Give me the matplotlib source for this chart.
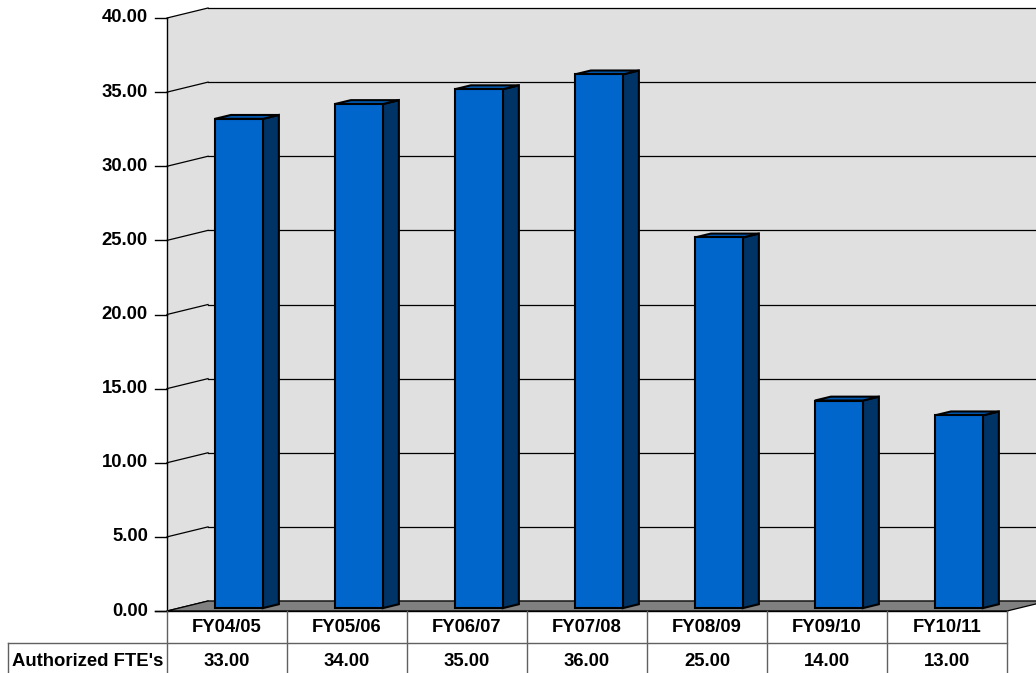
import matplotlib
matplotlib.use("Agg")
import matplotlib.pyplot as plt
from matplotlib.patches import Polygon

# Data
categories = ["FY04/05", "FY05/06", "FY06/07", "FY07/08", "FY08/09", "FY09/10", "FY10/11"]
fte_values = [33.0, 34.0, 35.0, 36.0, 25.0, 14.0, 13.0]
y_ticks = [0, 5, 10, 15, 20, 25, 30, 35, 40]
series_name = "Authorized FTE's"

plt.rcParams["font.family"] = ["Liberation Sans", "DejaVu Sans"]
plt.rcParams["font.weight"] = "bold"
FS = 13.3

W, H = 1036, 673
fig = plt.figure(figsize=(W / 100, H / 100), dpi=100)
fig.patch.set_facecolor("white")

# Front plane of the 3-D plot area (pixels): x 167..1007, y(0)=611, y(40)=18
ax = fig.add_axes([167 / W, (H - 611) / H, 840 / W, 593 / H])
ax.set_xlim(0, len(categories))
ax.set_ylim(0, 40)
ax.axis("off")

px_x = 840 / len(categories)      # pixels per category
px_y = 593 / 40                   # pixels per value unit
DX = 41 / px_x                    # depth offset along x (data units)
DY = 10 / px_y                    # depth offset along y (data units)

wall_c = "#E0E0E0"
floor_c = "#808080"
front_c = "#0066CC"
side_c = "#003366"
top_c = "#0058B0"
n = len(categories)
far = n + 2

def poly(pts, fc, ec="none", lw=0, z=1):
    p = Polygon(pts, closed=True, facecolor=fc, edgecolor=ec, linewidth=lw,
                zorder=z, clip_on=False, joinstyle="miter")
    ax.add_patch(p)

# Back wall and left side wall
poly([(DX, DY), (far, DY), (far, 40 + DY), (DX, 40 + DY)], wall_c, z=1)
poly([(0, 0), (DX, DY), (DX, 40 + DY), (0, 40)], wall_c, z=1)

# Gridlines on back wall and side wall
for v in y_ticks:
    ax.plot([DX, far], [v + DY, v + DY], color="black", lw=0.9, zorder=2, clip_on=False)
    ax.plot([0, DX], [v, v + DY], color="black", lw=0.9, zorder=2, clip_on=False)

# Floor
poly([(0, 0), (DX, DY), (n + DX, DY), (n, 0)], floor_c, ec="black", lw=0.9, z=3)

# Value axis line, ticks and labels
tick_len = 12 / px_x
ax.plot([0, 0], [0, 40], color="black", lw=1.0, zorder=4, clip_on=False)
for v in y_ticks:
    ax.plot([-tick_len, 0], [v, v], color="black", lw=1.0, zorder=4, clip_on=False)
    ax.text(-19 / px_x, v, f"{v:.2f}", ha="right", va="center", fontsize=FS,
            fontweight="bold", clip_on=False)

# 3-D bars
f0, f1 = 0.29, 0.68
bw = 0.4
for i, v in enumerate(fte_values):
    x0 = i + 0.5 - bw / 2 + f0 * DX
    x1 = i + 0.5 + bw / 2 + f0 * DX
    yb = f0 * DY
    yt = v + f0 * DY
    ddx = (f1 - f0) * DX
    ddy = (f1 - f0) * DY
    poly([(x1, yb), (x1 + ddx, yb + ddy), (x1 + ddx, yt + ddy), (x1, yt)],
         side_c, ec="black", lw=1.5, z=5)
    poly([(x0, yt), (x1, yt), (x1 + ddx, yt + ddy), (x0 + ddx, yt + ddy)],
         top_c, ec="black", lw=1.5, z=5)
    poly([(x0, yb), (x1, yb), (x1, yt), (x0, yt)],
         front_c, ec="black", lw=1.5, z=6)

# Data table below the plot
row1 = 32 / px_y
row_bot = (673 - 611 + 5) / px_y
hdr_left = (8 - 167) / px_x
grid_c = "#606060"
ax.plot([-tick_len, n], [0, 0], color="black", lw=1.0, zorder=7, clip_on=False)
for k in range(n + 1):
    ax.plot([k, k], [0, -row_bot], color=grid_c, lw=1.0, zorder=7, clip_on=False)
ax.plot([hdr_left, n], [-row1, -row1], color=grid_c, lw=1.0, zorder=7, clip_on=False)
ax.plot([hdr_left, hdr_left], [-row1, -row_bot], color=grid_c, lw=1.0, zorder=7,
        clip_on=False)

for i, (c, v) in enumerate(zip(categories, fte_values)):
    ax.text(i + 0.5, -16.5 / px_y, c, ha="center", va="center", fontsize=FS,
            fontweight="bold", clip_on=False)
    ax.text(i + 0.5, -50 / px_y, f"{v:.2f}", ha="center", va="center", fontsize=FS,
            fontweight="bold", clip_on=False)
ax.text(hdr_left / 2, -50 / px_y, series_name, ha="center", va="center",
        fontsize=FS, fontweight="bold", clip_on=False)

fig.savefig("out.png", dpi=100, facecolor="white")
